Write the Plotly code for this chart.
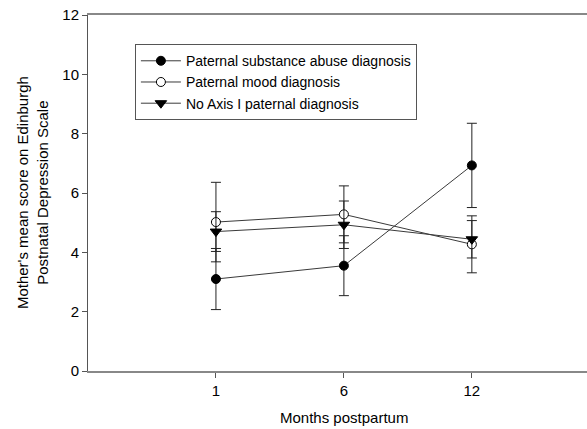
import plotly.graph_objects as go

months = ["1", "6", "12"]
substance_mean = [3.1, 3.55, 6.93]
substance_se = [1.03, 1.01, 1.42]
mood_mean = [5.02, 5.28, 4.27]
mood_se = [1.34, 0.96, 0.96]
noaxis_mean = [4.7, 4.93, 4.44]
noaxis_se = [0.67, 0.8, 0.63]
y_ticks = [0, 2, 4, 6, 8, 10, 12]

FONT = "Liberation Sans, Arial, sans-serif"
LINE = "#3a3a3a"

fig = go.Figure()

def add(name, mean, se, symbol, fill):
    fig.add_trace(go.Scatter(
        x=months, y=mean, name=name, mode="lines+markers",
        line=dict(color=LINE, width=1),
        marker=dict(symbol=symbol, size=9 if "circle" in symbol else 10,
                    color=fill, line=dict(color="black", width=1)),
        error_y=dict(type="data", array=se, visible=True, color="#222222",
                     thickness=1, width=5),
    ))

add("Paternal substance abuse diagnosis", substance_mean, substance_se, "circle", "black")
add("Paternal mood diagnosis", mood_mean, mood_se, "circle", "white")
add("No Axis I paternal diagnosis", noaxis_mean, noaxis_se, "triangle-down", "black")

fig.update_layout(
    width=587, height=429,
    margin=dict(l=88, r=0, t=15, b=58),
    paper_bgcolor="white", plot_bgcolor="white",
    font=dict(family=FONT, size=14, color="black"),
    showlegend=True,
    legend=dict(x=0.094, y=0.918, xanchor="left", yanchor="top",
                bordercolor="#555555", borderwidth=1, bgcolor="white",
                font=dict(size=14, family=FONT), tracegroupgap=0,
                itemwidth=40),
    xaxis=dict(type="category", range=[-1, 2.9], showgrid=False, zeroline=False,
               showline=True, linecolor="#888888", linewidth=2, mirror=True,
               ticks="outside", ticklen=5, tickcolor="#555555", tickwidth=1,
               tickfont=dict(size=15)),
    yaxis=dict(range=[0, 12], tickvals=y_ticks, showgrid=False, zeroline=False,
               showline=True, linecolor="#555555", linewidth=1,
               ticks="outside", ticklen=5, tickcolor="#555555",
               tickfont=dict(size=15)),
    annotations=[
        dict(text="Months postpartum", xref="x", yref="paper", x=1, y=-0.132,
             xanchor="center", yanchor="middle", showarrow=False,
             font=dict(size=15, family=FONT)),
        dict(text="Mother's mean score on Edinburgh<br>Postnatal Depression Scale",
             xref="paper", yref="paper", x=-0.112, y=0.5, textangle=-90,
             xanchor="center", yanchor="middle", showarrow=False,
             font=dict(size=15, family=FONT)),
    ],
)

fig.write_html("out.html", config={"displayModeBar": False},
               post_script="document.body.style.margin='0';document.body.style.overflow='hidden';")
